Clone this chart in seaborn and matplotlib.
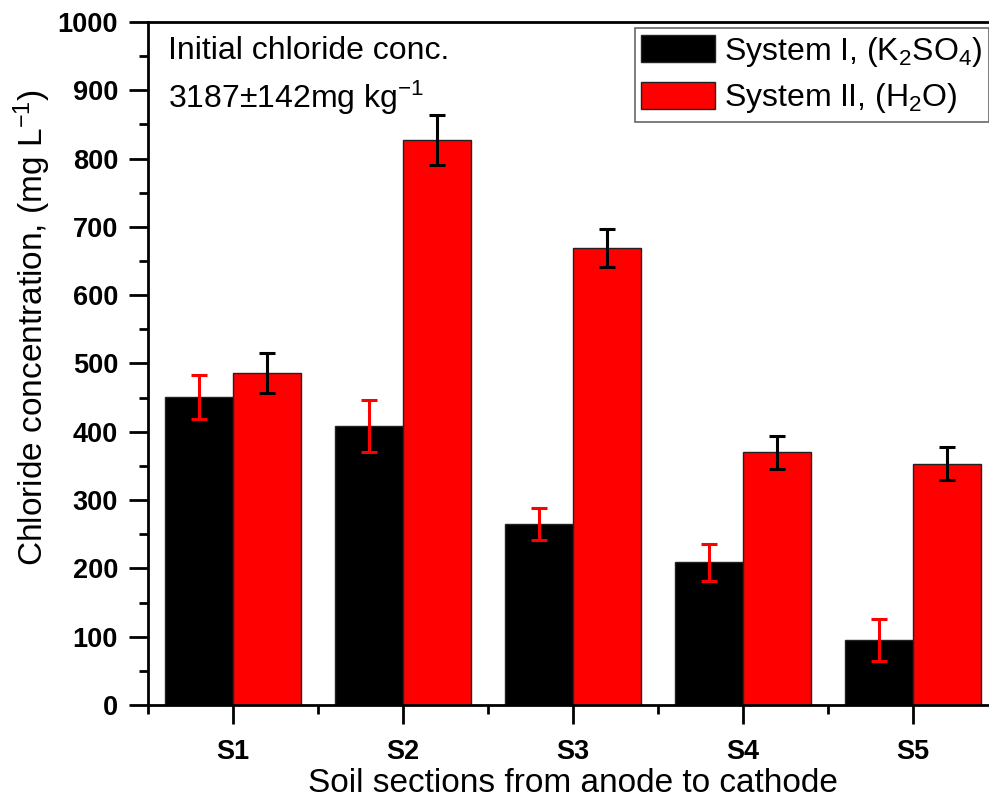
import matplotlib
matplotlib.use('Agg')
import matplotlib.pyplot as plt
from matplotlib.ticker import MultipleLocator
import numpy as np
import pandas as pd
import seaborn as sns

# values
sections = ['S1', 'S2', 'S3', 'S4', 'S5']
system_i = [451, 408, 265, 209, 95]
system_i_err = [32, 38, 24, 27, 31]
system_ii = [486, 827, 669, 370, 353]
system_ii_err = [29, 37, 28, 24, 24]
series_labels = [r'System I, (K$_2$SO$_4$)', r'System II, (H$_2$O)']
bar_colors = ['black', 'red']
err_colors = ['red', 'black']

sns.set_style('ticks')
plt.rcParams['font.family'] = ['Liberation Sans', 'DejaVu Sans']
plt.rcParams['mathtext.fontset'] = 'custom'
plt.rcParams['mathtext.rm'] = 'Liberation Sans'
plt.rcParams['mathtext.it'] = 'Liberation Sans:italic'
plt.rcParams['mathtext.bf'] = 'Liberation Sans:bold'
for key in ['text.color', 'axes.labelcolor', 'axes.edgecolor',
            'xtick.color', 'ytick.color']:
    plt.rcParams[key] = 'black'

df = pd.DataFrame({
    'section': sections * 2,
    'value': system_i + system_ii,
    'system': [series_labels[0]] * len(sections) + [series_labels[1]] * len(sections),
})
errs = [system_i_err, system_ii_err]

fig = plt.figure(figsize=(9.89, 8.02), dpi=100)
ax = fig.add_axes([0.1496, 0.121, 0.8594, 0.8516])

sns.barplot(data=df, x='section', y='value', hue='system', palette=bar_colors,
            errorbar=None, width=0.8, saturation=1, edgecolor='#222222',
            linewidth=1, ax=ax)

# error bars on top of each bar, colour swapped against the bar
for cont, err, ec in zip(ax.containers, errs, err_colors):
    xs = [b.get_x() + b.get_width() / 2 for b in cont]
    hs = [b.get_height() for b in cont]
    ax.errorbar(xs, hs, yerr=err, fmt='none', ecolor=ec, elinewidth=2.2,
                capsize=6, capthick=2.2, zorder=5)

ax.set_xlim(-0.5, 4.5)
ax.set_ylim(0, 1000)
ax.yaxis.set_major_locator(MultipleLocator(100))
ax.yaxis.set_minor_locator(MultipleLocator(50))
ax.set_xticks(np.arange(-0.5, 5, 1), minor=True)

for side in ['left', 'bottom', 'top', 'right']:
    ax.spines[side].set_linewidth(2)
    ax.spines[side].set_visible(True)
    ax.spines[side].set_color('black')
ax.tick_params(axis='both', which='major', direction='out', length=13.5, width=2,
               labelsize=19.5, colors='black')
ax.tick_params(axis='both', which='minor', direction='out', length=6.5, width=2,
               colors='black')
ax.tick_params(top=False, right=False, which='both')
ax.tick_params(axis='y', which='major', pad=8)
ax.tick_params(axis='x', which='major', pad=11)
for lab in ax.get_xticklabels() + ax.get_yticklabels():
    lab.set_fontweight('bold')

ax.set_xlabel('Soil sections from anode to cathode', fontsize=24, color='black')
ax.set_ylabel(r'Chloride concentration, (mg L$^{-1}$)', fontsize=24, color='black')
ax.xaxis.set_label_coords(0.5, -0.093)
ax.yaxis.set_label_coords(-0.112, 0.553)

ax.text(0.0235, 0.98, 'Initial chloride conc.', transform=ax.transAxes,
        fontsize=23, va='top', ha='left', color='black')
ax.text(0.0235, 0.917, r'3187$\pm$142mg kg$^{-1}$', transform=ax.transAxes,
        fontsize=23, va='top', ha='left', color='black')

handles, labels = ax.get_legend_handles_labels()
leg = ax.legend(handles, labels, loc='upper left', bbox_to_anchor=(0.573, 0.991),
                fontsize=23, frameon=True, fancybox=False, framealpha=1,
                edgecolor='#666666', handlelength=2.3, handleheight=0.9,
                borderpad=0.2, labelspacing=0.4, handletextpad=0.3,
                borderaxespad=0)
leg.get_frame().set_linewidth(1.2)
for t in leg.get_texts():
    t.set_color('black')

fig.savefig('out.png', dpi=100)
